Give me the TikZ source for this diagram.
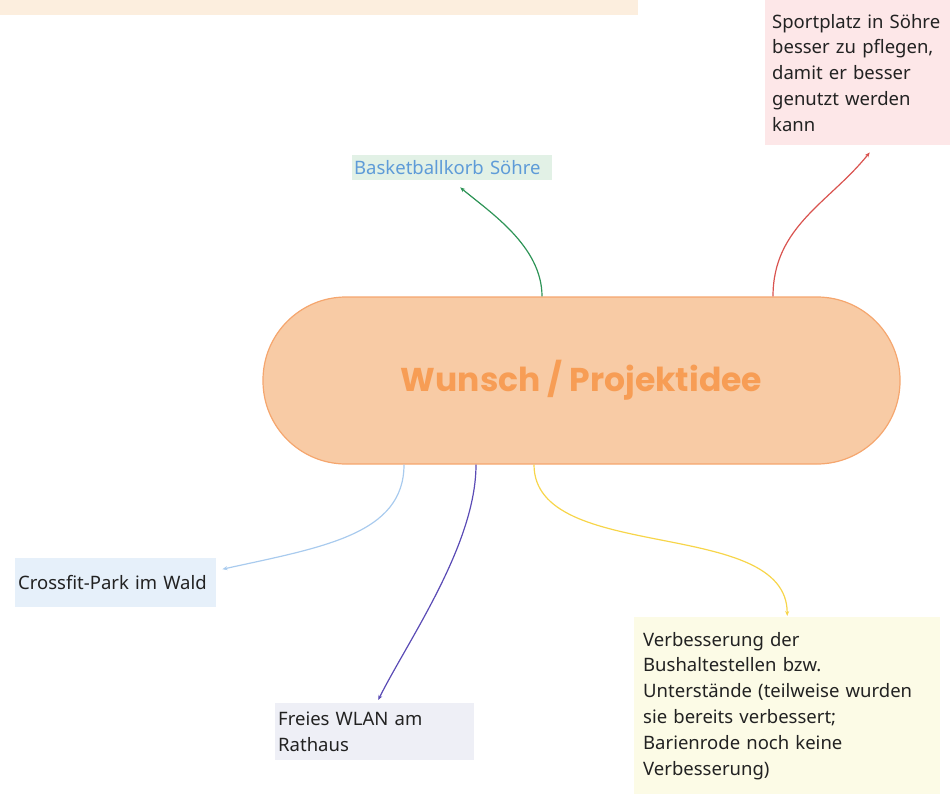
\documentclass[tikz,border=0pt]{standalone}
\usepackage{fontspec}
\setmainfont{Noto Sans}
\newfontfamily\titlefont{Poppins}
\usetikzlibrary{arrows.meta}
\definecolor{bandfill}{HTML}{FCEEDE}
\definecolor{sportfill}{HTML}{FDE7E8}
\definecolor{basketfill}{HTML}{E2F1E6}
\definecolor{baskettext}{HTML}{5E9BD8}
\definecolor{centerfill}{HTML}{F8CBA5}
\definecolor{centerdraw}{HTML}{F5A66E}
\definecolor{centertext}{HTML}{F79D55}
\definecolor{crossfill}{HTML}{E6F0FA}
\definecolor{wlanfill}{HTML}{EEEFF6}
\definecolor{verbfill}{HTML}{FCFBE6}
\definecolor{cgreen}{HTML}{2E9457}
\definecolor{cred}{HTML}{D9534F}
\definecolor{cblue}{HTML}{A9CBEE}
\definecolor{cpurple}{HTML}{5A4BB5}
\definecolor{cyellow}{HTML}{F7D54A}
\definecolor{dtext}{HTML}{222222}
\begin{document}
\begin{tikzpicture}[x=1pt,y=-1pt,
  leaf/.style={anchor=north west,align=left,inner xsep=7pt,inner ysep=0pt,text=dtext,
    font=\fontsize{18.5}{25.8}\selectfont},
  conn/.style={line width=1.2pt,-{Stealth[length=5pt,width=4pt]}}]
\useasboundingbox (0,0) rectangle (950,794);
\fill[bandfill] (0,0) rectangle (638,15);
\node[leaf,fill=sportfill,text width=178pt,minimum height=145pt] (s) at (765,0)
  {Sportplatz in Söhre\\besser zu pflegen,\\damit er besser\\genutzt werden\\kann};
\node[leaf,fill=basketfill,text=baskettext,inner xsep=2pt,text width=196pt,minimum height=25pt] (b) at (352,155)
  {Basketballkorb Söhre};
\node[draw=centerdraw,line width=1.2pt,fill=centerfill,rounded corners=83pt,minimum width=637pt,minimum height=167pt,
  font=\titlefont\bfseries\fontsize{33}{38}\selectfont,text=centertext] (c) at (581.5,380.5) {Wunsch / Projektidee};
\node[leaf,fill=crossfill,inner xsep=3pt,text width=195pt,minimum height=49pt] (x) at (15,558)
  {Crossfit-Park im Wald};
\node[leaf,fill=wlanfill,inner xsep=3pt,text width=193pt,minimum height=57pt] (w) at (275,703)
  {Freies WLAN am\\Rathaus};
\node[leaf,fill=verbfill,inner xsep=9pt,text width=288pt,minimum height=177pt] (v) at (634,617)
  {Verbesserung der\\Bushaltestellen bzw.\\Unterstände (teilweise wurden\\sie bereits verbessert;\\Barienrode noch keine\\Verbesserung)};
\draw[conn,cgreen] ([xshift=-39.5pt]c.north) .. controls +(0,-50) and +(30,25) .. ([xshift=8pt,yshift=-7pt]b.south);
\draw[conn,cred] ([xshift=191.5pt]c.north) .. controls +(0,-70) and +(-40,50) .. ([xshift=8.5pt,yshift=-7pt]s.south);
\draw[conn,cblue] ([xshift=-177.5pt]c.south) .. controls +(0,70) and +(100,-22) .. ([xshift=6pt,yshift=13.5pt]x.east);
\draw[conn,cpurple] ([xshift=-105.5pt]c.south) .. controls +(0,80) and +(30,-60) .. ([xshift=3.5pt,yshift=3pt]w.north);
\draw[conn,cyellow] ([xshift=-47.5pt]c.south) .. controls +(0,100) and +(0,-100) .. ([yshift=1pt]v.north);
\end{tikzpicture}
\end{document}
